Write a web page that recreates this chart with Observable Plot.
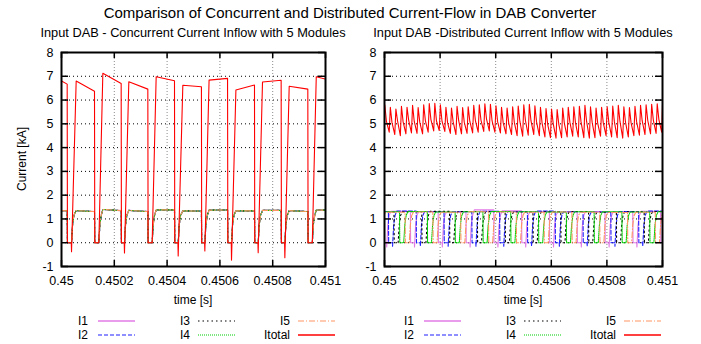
<!DOCTYPE html>
<html><head><meta charset="utf-8">
<script src="https://cdn.jsdelivr.net/npm/d3@7"></script>
<script src="https://cdn.jsdelivr.net/npm/@observablehq/plot@0.6"></script>
<style>
body{margin:0;background:#fff;}
#chart{position:relative;width:701px;height:344px;background:#fff;font-family:"Liberation Sans",Arial,Helvetica,sans-serif;color:#000;overflow:hidden}
.t{position:absolute;white-space:nowrap;}
#chart svg.plotsvg{position:absolute;top:0}
</style></head><body><div id="chart"></div>
<script>
// ---------- text ----------
const mainTitle = "Comparison of Concurrent and Distributed Current-Flow in DAB Converter";
const leftTitle = "Input DAB - Concurrent Current Inflow with 5 Modules";
const rightTitle = "Input DAB -Distributed Current Inflow with 5 Modules";
const yLabel = "Current [kA]";
const xLabel = "time [s]";

// ---------- ticks ----------
const xTicks = [0.45, 0.4502, 0.4504, 0.4506, 0.4508, 0.451];
const xTickLabels = ["0.45", "0.4502", "0.4504", "0.4506", "0.4508", "0.451"];
const yTicks = [-1, 0, 1, 2, 3, 4, 5, 6, 7, 8];

// ---------- series ----------
const seriesNames = ["I1", "I2", "I3", "I4", "I5", "Itotal"];
const seriesColors = ["#e27ae6", "#1f1fff", "#000000", "#00d000", "#ff9560", "#ff0000"];
const seriesDash = [null, "4,2", "1.5,3", "1,1", "6,2,1,2", null];

// Left panel (concurrent): time in µs after 0.45 s, current in kA
const leftTotalT = [0, 21.5, 22.5, 37, 38, 55.6, 125, 126, 141.4, 156.6, 226, 227, 237.6, 238.6, 255, 327, 328, 343.4, 358.6, 428, 429, 441, 442, 459.6, 530, 531, 542, 543, 559, 629, 630, 643, 644, 660.6, 731, 732, 744, 745, 761.4, 832, 833, 845, 846, 862.5, 933, 934, 950, 965, 1000];
const leftTotalI = [6.80, 6.67, 0, 0, -0.38, 6.80, 6.37, 0, 0, 7.13, 6.70, 0, 0, -0.43, 6.77, 6.46, 0, 0, 6.98, 6.81, 0, 0, -0.56, 6.62, 6.56, 0, 0, -0.35, 6.84, 6.91, 0, 0, -0.73, 6.42, 6.63, 0, 0, -0.42, 6.76, 6.83, 0, 0, -0.63, 6.58, 6.46, 0, 0, 6.98, 6.88];
// all five module currents overlap in the concurrent case
const leftModuleT = [0, 21.5, 22.5, 38, 42, 47, 55.6, 125, 126, 141.4, 145.4, 150.4, 156.6, 226, 227, 238.6, 242.6, 247.6, 255, 327, 328, 343.4, 347.4, 352.4, 358.6, 428, 429, 442, 446, 451, 459.6, 530, 531, 543, 547, 552, 559, 629, 630, 644, 648, 653, 660.6, 731, 732, 745, 749, 754, 761.4, 832, 833, 846, 850, 855, 862.5, 933, 934, 950, 954, 959, 965, 1000];
const leftModuleI = [1.35, 1.34, 0, 0, 0.75, 1.15, 1.35, 1.31, 0, 0, 0.75, 1.15, 1.40, 1.35, 0, 0, 0.75, 1.15, 1.36, 1.31, 0, 0, 0.75, 1.15, 1.38, 1.38, 0, 0, 0.75, 1.15, 1.34, 1.33, 0, 0, 0.75, 1.15, 1.37, 1.38, 0, 0, 0.75, 1.15, 1.34, 1.34, 0, 0, 0.75, 1.15, 1.36, 1.36, 0, 0, 0.75, 1.15, 1.35, 1.31, 0, 0, 0.75, 1.15, 1.38, 1.37];

// Right panel (distributed / interleaved)
const rightTotalPeak = [5.80,5.70,5.62,5.74,5.70,5.78,5.68,5.80,5.85,5.86,5.80,5.70,5.66,5.74,5.68,5.72,5.78,5.80,5.84,5.82,5.76,5.70,5.66,5.72,5.75,5.80,5.82,5.76,5.70,5.64,5.62,5.60,5.66,5.70,5.72,5.74,5.78,5.72,5.66,5.70,5.72,5.75,5.78,5.72,5.68,5.74,5.78,5.80,5.82,5.84];
const rightTotalMid = [5.10,5.05,5.12,5.08,5.15,5.10,5.06,5.14,5.18,5.12,5.10,5.04,5.08,5.12,5.06,5.10,5.14,5.16,5.20,5.12,5.08,5.04,5.02,5.06,5.10,5.14,5.12,5.08,5.02,4.98,5.00,4.98,5.02,5.06,5.04,5.08,5.10,5.06,5.02,5.04,5.06,5.08,5.10,5.06,5.04,5.08,5.12,5.14,5.16,5.18];
const rightTotalTrough = [4.65,4.55,4.50,4.58,4.62,4.60,4.58,4.65,4.70,4.72,4.68,4.60,4.55,4.58,4.60,4.62,4.65,4.68,4.70,4.65,4.62,4.58,4.55,4.50,4.48,4.52,4.55,4.50,4.45,4.42,4.40,4.42,4.45,4.48,4.45,4.42,4.40,4.42,4.48,4.50,4.45,4.42,4.40,4.45,4.50,4.52,4.55,4.58,4.60,4.65];
const rightTotalEnd = 5.78;
const modulePhase = [8, 29, 49, 69, 89]; // µs of first turn-on for I1..I5
const moduleSpike = [-0.18, -0.15, 0, 0, 0];
const moduleLevelI1 = [1.30,1.32,1.31,1.29,1.38,1.34,1.30,1.29,1.31,1.30,1.32];
const moduleLevelI2 = [1.31,1.33,1.30,1.30,1.32,1.31,1.33,1.30,1.29,1.31,1.33];
const moduleLevelI3 = [1.29,1.30,1.32,1.31,1.30,1.29,1.30,1.31,1.28,1.30,1.31];
const moduleLevelI4 = [1.30,1.31,1.29,1.30,1.31,1.30,1.29,1.30,1.30,1.29,1.30];
const moduleLevelI5 = [1.28,1.29,1.28,1.30,1.29,1.28,1.29,1.28,1.27,1.28,1.29];

// ---------- build tables ----------
const sec = us => 0.45 + us * 1e-6;
const leftSeries = [];
for (let k = 0; k < 5; k++) leftSeries.push(leftModuleT.map((t, i) => ({t: sec(t), v: leftModuleI[i]})));
leftSeries.push(leftTotalT.map((t, i) => ({t: sec(t), v: leftTotalI[i]})));

const moduleLevels = [moduleLevelI1, moduleLevelI2, moduleLevelI3, moduleLevelI4, moduleLevelI5];
const rightSeries = moduleLevels.map((levels, m) => {
  const pts = [];
  levels.forEach((L, j) => {
    const r = modulePhase[m] + 100 * (j - 1);
    pts.push([r - 0.5, 0], [r, moduleSpike[m]], [r + 4, 0.75], [r + 9, 1.15], [r + 15, L], [r + 85, L], [r + 86, 0]);
  });
  return pts.map(([t, v]) => ({t: sec(t), v}));
});
const rt = [];
rightTotalPeak.forEach((p, k) => {
  rt.push([20 * k + 1, p], [20 * k + 7, rightTotalMid[k]], [20 * k + 17, rightTotalTrough[k]]);
});
rt.push([1000, rightTotalEnd]);
rightSeries.push(rt.map(([t, v]) => ({t: sec(t), v})));

// ---------- plotting ----------
const H = 344, MT = 52, MB = 78;
function panel(series, width, ml, mr) {
  const pw = width - ml - mr, ph = H - MT - MB;
  const marks = [
    Plot.ruleY(yTicks.slice(1, -1), {stroke: "#000", strokeDasharray: "1,3", strokeWidth: 1}),
    Plot.ruleX(xTicks.slice(1, -1), {stroke: "#8a8a8a", strokeDasharray: "1,2", strokeWidth: 1}),
  ];
  series.forEach((data, i) => {
    marks.push(Plot.line(data, {x: "t", y: "v", stroke: seriesColors[i], strokeWidth: i === 5 ? 1.1 : 1.1,
      strokeDasharray: seriesDash[i] || undefined, clip: true}));
  });
  marks.push(
    Plot.tickY(yTicks, {stroke: "#000", strokeWidth: 1.5, insetRight: pw - 7}),
    Plot.tickY(yTicks, {stroke: "#000", strokeWidth: 1.5, insetLeft: pw - 7}),
    Plot.tickX(xTicks, {stroke: "#000", strokeWidth: 1.5, insetTop: ph - 6}),
    Plot.tickX(xTicks, {stroke: "#000", strokeWidth: 1.5, insetBottom: ph - 6}),
    Plot.axisX({ticks: xTicks, tickSize: 0, tickPadding: 10, label: null, tickFormat: d => xTickLabels[xTicks.indexOf(d)]}),
    Plot.axisY({ticks: yTicks, tickSize: 0, tickPadding: 8, label: null, tickFormat: d => String(d)}),
    Plot.frame({stroke: "#000", strokeWidth: 2})
  );
  const svg = Plot.plot({
    width, height: H, marginLeft: ml, marginRight: mr, marginTop: MT, marginBottom: MB,
    x: {domain: [0.45, 0.451]}, y: {domain: [-1, 8]},
    style: {fontFamily: "'Liberation Sans', Arial, sans-serif", fontSize: "12.5px", color: "#000", background: "transparent", overflow: "visible"},
    marks
  });
  svg.classList.add("plotsvg");
  return svg;
}

const chart = document.getElementById("chart");
const left = panel(leftSeries, 355, 61, 30);
left.style.left = "0px";
const right = panel(rightSeries, 346, 29, 39);
right.style.left = "355px";
chart.appendChild(left);
chart.appendChild(right);

function text(str, cx, cy, size, rotate) {
  const d = document.createElement("div");
  d.className = "t";
  d.textContent = str;
  d.style.fontSize = size + "px";
  d.style.lineHeight = size + "px";
  d.style.left = cx + "px";
  d.style.top = cy + "px";
  d.style.transform = "translate(-50%,-50%)" + (rotate ? " rotate(-90deg)" : "");
  chart.appendChild(d);
  return d;
}
text(mainTitle, 350, 12, 15);
text(leftTitle, 193, 33, 12.8);
text(rightTitle, 523, 33, 12.8);
text(yLabel, 22, 159, 12, true);
text(xLabel, 193, 300, 12);
text(xLabel, 523, 300, 12);

// legends
const legendCols = [{tr: 88, lx: 98}, {tr: 190, lx: 198}, {tr: 290, lx: 298}];
const legendRows = [321, 335];
[0, 326].forEach(off => {
  seriesNames.forEach((name, i) => {
    const c = legendCols[Math.floor(i / 2)], y = legendRows[i % 2];
    const d = document.createElement("div");
    d.className = "t";
    d.textContent = name;
    d.style.fontSize = "12px";
    d.style.lineHeight = "14px";
    d.style.width = "60px";
    d.style.textAlign = "right";
    d.style.left = (off + c.tr - 60) + "px";
    d.style.top = (y - 7) + "px";
    chart.appendChild(d);
    const s = document.createElementNS("http://www.w3.org/2000/svg", "svg");
    s.setAttribute("width", 40); s.setAttribute("height", 6);
    s.style.position = "absolute";
    s.style.left = (off + c.lx) + "px";
    s.style.top = (y - 3) + "px";
    const ln = document.createElementNS("http://www.w3.org/2000/svg", "line");
    ln.setAttribute("x1", 0); ln.setAttribute("x2", 37); ln.setAttribute("y1", 3); ln.setAttribute("y2", 3);
    ln.setAttribute("stroke", seriesColors[i]);
    ln.setAttribute("stroke-width", (i === 0 || i === 5) ? 1.6 : 1.2);
    if (seriesDash[i]) ln.setAttribute("stroke-dasharray", seriesDash[i]);
    s.appendChild(ln);
    chart.appendChild(s);
  });
});
</script></body></html>
